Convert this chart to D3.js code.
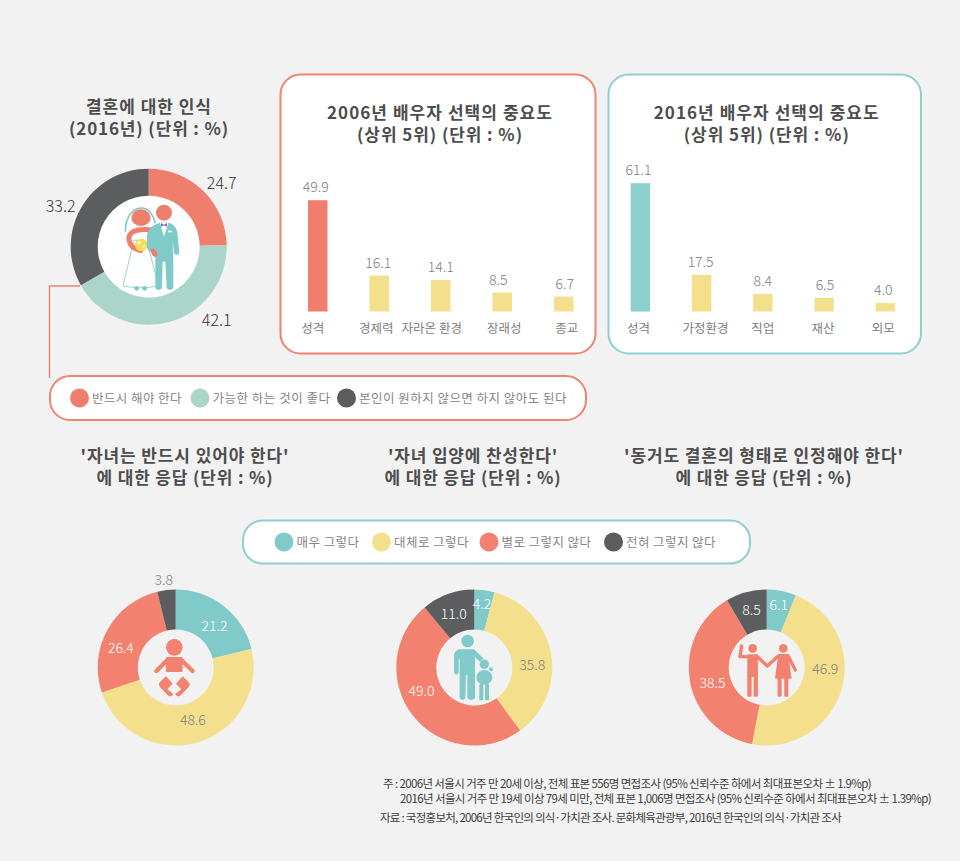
<!DOCTYPE html>
<html>
<head>
<meta charset="utf-8">
<script src="https://cdn.jsdelivr.net/npm/d3@7"></script>
<style>
  html, body { margin: 0; padding: 0; background: #f2f2f2; }
  svg { display: block; }
  text { font-family: "Noto Sans CJK KR", "Noto Sans", sans-serif; }
  .title { font-size: 17px; font-weight: 700; fill: #4d4d4d; text-anchor: middle; }
  .legend-text { font-size: 12.5px; fill: #858585; }
  .note { font-size: 11.5px; fill: #3c3c3c; }
</style>
</head>
<body>
<svg id="chart" width="960" height="861"></svg>
<script>
// colours
var coral = "#ef7f6c", mint = "#acd5ca", dark = "#5c5d5f";
var teal = "#80cbc9", yellow = "#f4e08c", salmon = "#f2826f";

// marriage donut
var marriageValues = [24.7, 42.1, 33.2];
var marriageColors = [coral, mint, dark];
var marriageLabels = ["반드시 해야 한다", "가능한 하는 것이 좋다", "본인이 원하지 않으면 하지 않아도 된다"];

// bars
var cats2006 = ["성격", "경제력", "자라온 환경", "장래성", "종교"];
var vals2006 = [49.9, 16.1, 14.1, 8.5, 6.7];
var cats2016 = ["성격", "가정환경", "직업", "재산", "외모"];
var vals2016 = [61.1, 17.5, 8.4, 6.5, 4.0];

// bottom donuts
var answerLabels = ["매우 그렇다", "대체로 그렇다", "별로 그렇지 않다", "전혀 그렇지 않다"];
var childValues = [21.2, 48.6, 26.4, 3.8];
var adoptValues = [4.2, 35.8, 49.0, 11.0];
var cohabitValues = [6.1, 46.9, 38.5, 8.5];

var svg = d3.select("#chart");

// squeeze or stretch a text to a width with letter spacing
function fit(sel, len) {
  var n = sel.text().length;
  var w = sel.node().getComputedTextLength();
  sel.style("letter-spacing", ((len - w) / n).toFixed(3) + "px");
}

function addTitle(cx, y, lines, lens) {
  lines.forEach(function(t, i) {
    svg.append("text").attr("class", "title")
      .attr("x", cx).attr("y", y + i * 22)
      .text(t)
      .call(fit, lens[i]);
  });
}

// nudges move a label away from the arc centroid, same order as the values
function donut(cx, cy, inner, values, colors, holeFill, nudges, labelColors, fontSize) {
  var g = svg.append("g").attr("transform", "translate(" + cx + "," + cy + ")");
  var pie = d3.pie().sort(null)(values);
  var arc = d3.arc().innerRadius(inner).outerRadius(78);

  g.append("circle").attr("r", inner).attr("fill", holeFill);
  g.selectAll("path").data(pie).enter().append("path")
    .attr("d", arc)
    .attr("fill", function(d, i) { return colors[i]; });

  var labelArc = d3.arc().innerRadius(58).outerRadius(58);
  g.selectAll("text").data(pie).enter().append("text")
    .attr("text-anchor", "middle")
    .attr("dy", "0.36em")
    .attr("font-size", fontSize)
    .attr("font-weight", 300)
    .attr("fill", function(d, i) { return labelColors[i]; })
    .attr("x", function(d, i) { return labelArc.centroid(d)[0] + nudges[i][0]; })
    .attr("y", function(d, i) { return labelArc.centroid(d)[1] + nudges[i][1]; })
    .text(function(d) { return d.value.toFixed(1); });
}

function barPanel(px, pw, color, border, x0, x1, unit, cats, vals, catNudge, valNudge, title, lens) {
  svg.append("rect")
    .attr("x", px).attr("y", 74.5).attr("width", pw).attr("height", 279)
    .attr("rx", 20).attr("fill", "#fff")
    .attr("stroke", border).attr("stroke-width", 2);
  addTitle(px + pw / 2 + 2, 119, title, lens);

  var x = d3.scaleBand().domain(d3.range(cats.length)).range([x0, x1]).paddingInner(0.683);
  var baseline = 311.5;
  var y = d3.scaleLinear().domain([0, 100]).range([baseline, baseline - unit * 100]);

  svg.selectAll(null).data(vals).enter().append("rect")
    .attr("x", function(d, i) { return x(i); })
    .attr("width", x.bandwidth())
    .attr("y", function(d) { return y(d); })
    .attr("height", function(d) { return baseline - y(d); })
    .attr("fill", function(d, i) { return i === 0 ? color : yellow; });

  svg.selectAll(null).data(vals).enter().append("text")
    .attr("text-anchor", "middle").attr("dy", "0.36em")
    .attr("font-size", 14).attr("font-weight", 300).attr("fill", "#7d7d7d")
    .attr("x", function(d, i) { return x(i) + x.bandwidth() / 2 + valNudge[i]; })
    .attr("y", function(d) { return y(d) - 13; })
    .text(function(d) { return d.toFixed(1); });

  svg.selectAll(null).data(cats).enter().append("text")
    .attr("text-anchor", "middle").attr("dy", "0.36em")
    .attr("font-size", 12.5).attr("fill", "#7d7d7d")
    .attr("x", function(d, i) { return x(i) + x.bandwidth() / 2 + catNudge[i]; })
    .attr("y", 328)
    .text(function(d) { return d; });
}

function legendBox(x, y, w, h, border, items) {
  svg.append("rect").attr("x", x).attr("y", y).attr("width", w).attr("height", h)
    .attr("rx", h / 2 - 2).attr("fill", "#fff").attr("stroke", border).attr("stroke-width", 2);
  items.forEach(function(it) {
    svg.append("circle").attr("cx", it.cx).attr("cy", y + h / 2).attr("r", 9.5).attr("fill", it.color);
    svg.append("text").attr("class", "legend-text")
      .attr("x", it.cx + 12.5).attr("y", y + h / 2).attr("dy", "0.36em")
      .text(it.label)
      .call(fit, it.len);
  });
}

// ----- top left -----
addTitle(149, 113, ["결혼에 대한 인식", "(2016년) (단위 : %)"], [126, 160]);
donut(148.7, 246.7, 51, marriageValues, marriageColors, "#fff",
  [[32.4, -22], [52.7, 17.3], [-38, -11]], ["#333", "#333", "#333"], 16);

svg.append("path")
  .attr("d", "M49.5,378V286H80")
  .attr("fill", "none").attr("stroke", "#ee8472").attr("stroke-width", 1.5);

// bride and groom
var wed = svg.append("g").attr("transform", "translate(40,80) scale(0.3333)");
wed.append("path").attr("d", "M256,455C256,402 285,384 305,384C330,384 340,408 346,430")
  .attr("fill", "none").attr("stroke", teal).attr("stroke-width", 5);
wed.append("path").attr("d", "M282,480L249,618Q300,628 356,618L322,490Z")
  .attr("fill", "#fff").attr("stroke", teal).attr("stroke-width", 2.5);
wed.append("circle").attr("cx", 290).attr("cy", 625).attr("r", 7).attr("fill", teal);
wed.append("circle").attr("cx", 314).attr("cy", 625).attr("r", 7).attr("fill", teal);
wed.append("path").attr("d", "M330,449C285,445 264,458 267,480C270,498 285,508 302,512")
  .attr("fill", "none").attr("stroke", coral).attr("stroke-width", 15).attr("stroke-linecap", "round");
wed.append("ellipse").attr("cx", 303).attr("cy", 413).attr("rx", 29).attr("ry", 25).attr("fill", coral);
wed.append("circle").attr("cx", 304).attr("cy", 495).attr("r", 19).attr("fill", "#f7dc5c");
wed.append("circle").attr("cx", 297).attr("cy", 488).attr("r", 6).attr("fill", "#fbeea6");
wed.append("circle").attr("cx", 312).attr("cy", 499).attr("r", 5).attr("fill", "#fbeea6");
wed.append("path")
  .attr("d", "M322,460Q330,436 360,428L385,428Q406,432 412,455L418,520Q410,530 402,520L398,480L400,540L400,625Q390,635 380,625L376,545L368,545L366,625Q355,635 346,625L346,540L345,505L332,515Q318,510 320,490Z")
  .attr("fill", teal);
wed.append("circle").attr("cx", 372).attr("cy", 398).attr("r", 24).attr("fill", coral);
wed.append("path").attr("d", "M360,429L385,429L372,470Z").attr("fill", "#fff");
wed.append("path").attr("d", "M363,429L372,434L381,429L381,440L372,436L363,440Z").attr("fill", "#7a6bc0");
wed.append("rect").attr("x", 384).attr("y", 452).attr("width", 11).attr("height", 5).attr("fill", "#fff");
wed.append("ellipse").attr("cx", 342).attr("cy", 518).attr("rx", 8).attr("ry", 14)
  .attr("transform", "rotate(-25 342 518)").attr("fill", coral);

// ----- bar panels -----
barPanel(280.5, 315, coral, "#ee8472", 308, 573.5, 2.23, cats2006, vals2006,
  [-5, -3, -9, 2, 3], [-2, -1, 0, -4, 1],
  ["2006년 배우자 선택의 중요도", "(상위 5위) (단위 : %)"], [226, 166]);
barPanel(608.5, 312.5, "#8dcfcd", "#8fd0ce", 630.7, 895, 2.1, cats2016, vals2016,
  [-2, 4, 0, -1, -2], [-2, -1, 0, 1, -2],
  ["2016년 배우자 선택의 중요도", "(상위 5위) (단위 : %)"], [226, 166]);

// ----- legends -----
legendBox(50, 376, 536, 44, "#ee8472", [
  {cx: 79.5, color: coral, label: marriageLabels[0], len: 90},
  {cx: 200, color: mint, label: marriageLabels[1], len: 118},
  {cx: 346.5, color: dark, label: marriageLabels[2], len: 208}
]);
legendBox(243, 520.5, 507, 43, "#8fd0ce", [
  {cx: 284, color: teal, label: answerLabels[0], len: 63},
  {cx: 381.5, color: yellow, label: answerLabels[1], len: 75},
  {cx: 489, color: salmon, label: answerLabels[2], len: 90},
  {cx: 613.5, color: dark, label: answerLabels[3], len: 90}
]);

// ----- bottom titles -----
addTitle(185, 462, ["'자녀는 반드시 있어야 한다'", "에 대한 응답 (단위 : %)"], [209, 177]);
addTitle(473, 462, ["'자녀 입양에 찬성한다'", "에 대한 응답 (단위 : %)"], [170, 177]);
addTitle(764, 462, ["'동거도 결혼의 형태로 인정해야 한다'", "에 대한 응답 (단위 : %)"], [280, 177]);

// ----- bottom donuts -----
var answerColors = [teal, yellow, salmon, dark];
donut(175.7, 667.5, 38, childValues, answerColors, "#f2f2f2",
  [[3, 4], [1, -3], [-4, 8], [-5, -30]], ["#fff", "#808080", "#fff", "#808080"], 14);
donut(474.3, 667.5, 38, adoptValues, answerColors, "#f2f2f2",
  [[0, -6.5], [1, 8], [-7, -12], [-1, 1]], ["#fff", "#808080", "#fff", "#fff"], 14);
donut(766.7, 667.5, 38, cohabitValues, answerColors, "#f2f2f2",
  [[1, -6], [3, -15], [3, 5], [0, -2]], ["#fff", "#808080", "#fff", "#fff"], 14);

// baby
var baby = svg.append("g").attr("transform", "translate(90,560) scale(0.3333)").attr("fill", salmon);
baby.append("circle").attr("cx", 253).attr("cy", 262).attr("r", 25);
baby.append("rect").attr("x", 228).attr("y", 291).attr("width", 50).attr("height", 45).attr("rx", 4);
baby.selectAll(null).data(["M232,300L199,333", "M274,300L308,333"])
  .enter().append("path").attr("d", function(d) { return d; })
  .attr("stroke", salmon).attr("stroke-width", 13).attr("stroke-linecap", "round");
baby.append("path").attr("d", "M228,349L248,371L232,388L250,402Q246,412 235,407L210,381Q204,372 210,366Z");
baby.append("path").attr("d", "M278,349L258,371L274,388L256,402Q260,412 271,407L296,381Q302,372 296,366Z");

// parent and child
var fam = svg.append("g").attr("transform", "translate(390,580) scale(0.3333)").attr("fill", teal);
fam.append("circle").attr("cx", 233).attr("cy", 183).attr("r", 19);
fam.append("path").attr("d", "M192,225Q195,208 212,208L252,208L285,240L275,250L255,232L255,355Q243,365 232,355L232,285L228,285L226,355Q218,365 209,355L209,235L206,240L206,278Q198,290 192,278Z");
fam.append("circle").attr("cx", 283).attr("cy", 253).attr("r", 15).attr("stroke", "#f2f2f2").attr("stroke-width", 2);
fam.append("circle").attr("cx", 303).attr("cy", 268).attr("r", 6);
fam.append("ellipse").attr("cx", 283).attr("cy", 292).attr("rx", 25).attr("ry", 23).attr("stroke", "#f2f2f2").attr("stroke-width", 2);
fam.append("rect").attr("x", 268).attr("y", 312).attr("width", 12).attr("height", 49).attr("rx", 2);
fam.append("rect").attr("x", 285).attr("y", 312).attr("width", 12).attr("height", 49).attr("rx", 2);

// couple
var cpl = svg.append("g").attr("transform", "translate(390,580) scale(0.3333)").attr("fill", salmon);
cpl.append("circle").attr("cx", 1088).attr("cy", 205).attr("r", 13);
cpl.append("circle").attr("cx", 1180).attr("cy", 205).attr("r", 13);
cpl.append("rect").attr("x", 1072).attr("y", 223).attr("width", 32).attr("height", 68);
cpl.append("rect").attr("x", 1072).attr("y", 285).attr("width", 13).attr("height", 65).attr("rx", 3);
cpl.append("rect").attr("x", 1091).attr("y", 285).attr("width", 13).attr("height", 65).attr("rx", 3);
cpl.append("path").attr("d", "M1165,222L1195,222L1205,296L1155,296Z");
cpl.append("rect").attr("x", 1163).attr("y", 290).attr("width", 12).attr("height", 60).attr("rx", 3);
cpl.append("rect").attr("x", 1183).attr("y", 290).attr("width", 12).attr("height", 60).attr("rx", 3);
cpl.selectAll(null).data(["M1078,230L1050,230L1055,198", "M1100,228L1132,258L1165,228", "M1195,228L1216,270"])
  .enter().append("path").attr("d", function(d) { return d; })
  .attr("fill", "none").attr("stroke", salmon).attr("stroke-width", 10)
  .attr("stroke-linecap", "round").attr("stroke-linejoin", "round");

// ----- notes -----
var notes = [
  {x: 383, y: 788, len: 488, t: "주 : 2006년 서울시 거주 만 20세 이상, 전체 표본 556명 면접조사 (95% 신뢰수준 하에서 최대표본오차 ± 1.9%p)"},
  {x: 400, y: 803, len: 531, t: "2016년 서울시 거주 만 19세 이상 79세 미만, 전체 표본 1,006명 면접조사 (95% 신뢰수준 하에서 최대표본오차 ± 1.39%p)"},
  {x: 380, y: 822, len: 461, t: "자료 : 국정홍보처, 2006년 한국인의 의식·가치관 조사. 문화체육관광부, 2016년 한국인의 의식·가치관 조사"}
];
notes.forEach(function(d) {
  svg.append("text").attr("class", "note")
    .attr("x", d.x).attr("y", d.y)
    .text(d.t)
    .call(fit, d.len);
});
</script>
</body>
</html>
